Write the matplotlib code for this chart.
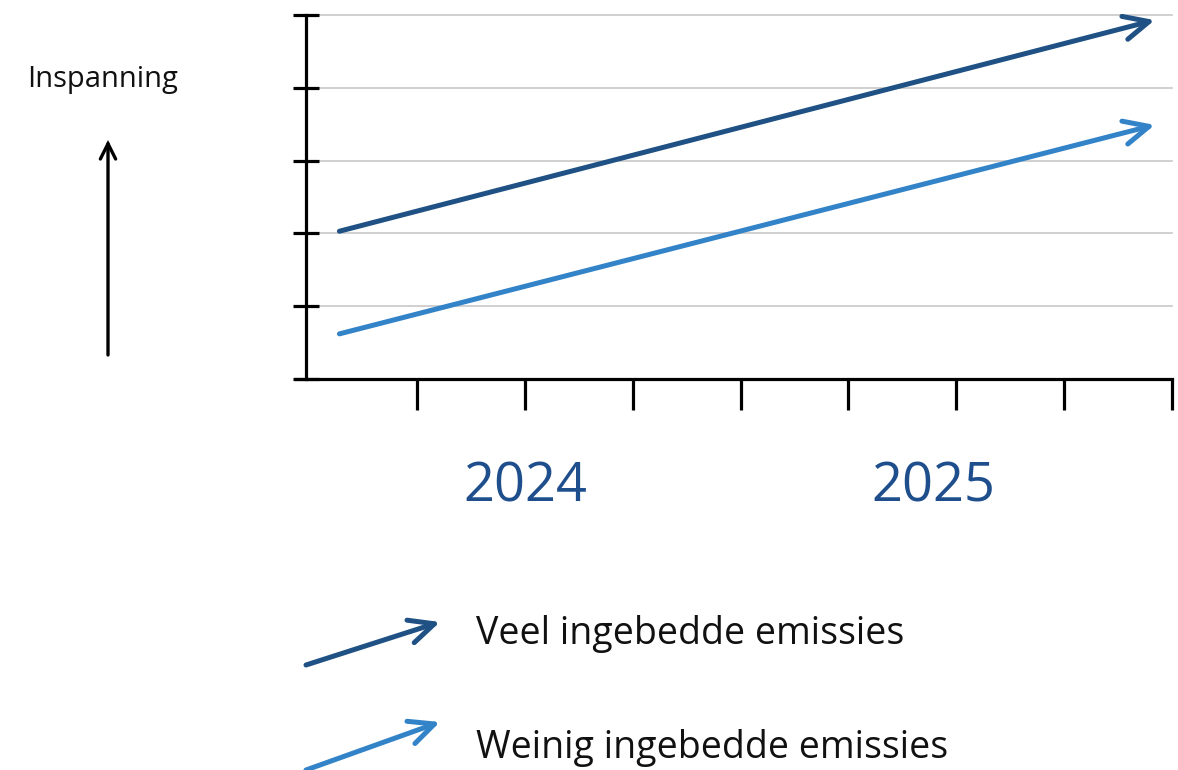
import matplotlib
matplotlib.use("Agg")
import matplotlib.pyplot as plt
from matplotlib.patches import FancyArrowPatch

# ---- data ----
x_span = [0.28, 7.84]
veel = [2.03, 4.93]
weinig = [0.62, 3.49]
year_labels = ["2024", "2025"]
year_pos = [2.0, 5.79]
series_labels = ["Veel ingebedde emissies", "Weinig ingebedde emissies"]
y_ticks = [0, 1, 2, 3, 4, 5]
x_ticks = [1, 2, 3, 4, 5, 6, 7, 8]

dark = "#1f5184"
light = "#3383c8"
text_blue = "#1f4e8c"
FONT = "Open Sans"

W, H = 1178, 770
fig = plt.figure(figsize=(W / 100, H / 100), dpi=100)
ax = fig.add_axes([306 / W, 1 - 379 / H, (1172 - 306) / W, (379 - 15) / H])
ax.set_xlim(-0.03, 8)
ax.set_ylim(0, 5)

for s in ["top", "right"]:
    ax.spines[s].set_visible(False)
ax.spines["left"].set_linewidth(2.3)
ax.spines["bottom"].set_linewidth(2.3)
ax.spines["bottom"].set_bounds(-0.12, 8)

ax.set_yticks(y_ticks)
ax.set_yticklabels([])
ax.tick_params(axis="y", direction="inout", length=19, width=2.3)
ax.set_xticks(x_ticks)
ax.set_xticklabels([])
ax.tick_params(axis="x", direction="out", length=22, width=2.3)

for y in y_ticks[1:]:
    ax.axhline(y, color="#c8c8c8", lw=1.2, zorder=0, clip_on=False)

STYLE = "->,head_length=1.8,head_width=0.85"

def arrow(a, x0, y0, x1, y1, color):
    a.annotate("", xy=(x1, y1), xytext=(x0, y0),
               arrowprops=dict(arrowstyle=STYLE, color=color, lw=3.6,
                               shrinkA=0, shrinkB=0,
                               capstyle="round", joinstyle="round"),
               annotation_clip=False)

arrow(ax, x_span[0], veel[0], x_span[1], veel[1], dark)
arrow(ax, x_span[0], weinig[0], x_span[1], weinig[1], light)

for lab, xp in zip(year_labels, year_pos):
    ax.text(xp, -1.49, lab, ha="center", va="center", fontsize=39,
            color=text_blue, family=FONT)

# y-axis label and arrow
fig.text(103 / W, 1 - 80 / H, "Inspanning", ha="center", va="center",
         fontsize=21, color="#111111", family=FONT)
fig.add_artist(FancyArrowPatch(
    (108 / W, 1 - 355 / H), (108 / W, 1 - 140 / H), transform=fig.transFigure,
    arrowstyle="->,head_length=1.1,head_width=0.55", color="black", lw=2.4,
    shrinkA=0, shrinkB=0, mutation_scale=10, joinstyle="miter"))

# legend
leg = [(665, 622, 634, dark), (770, 722, 748, light)]
for (y0, y1, ty, c), lab in zip(leg, series_labels):
    fig.add_artist(FancyArrowPatch(
        (306 / W, 1 - y0 / H), (440 / W, 1 - y1 / H), transform=fig.transFigure,
        arrowstyle=STYLE, color=c, lw=3.6, mutation_scale=10,
        shrinkA=0, shrinkB=0, capstyle="round", joinstyle="round"))
    fig.text(476 / W, 1 - ty / H, lab, ha="left", va="center", fontsize=27,
             color="#111111", family=FONT)

fig.savefig("out.png", dpi=100)
